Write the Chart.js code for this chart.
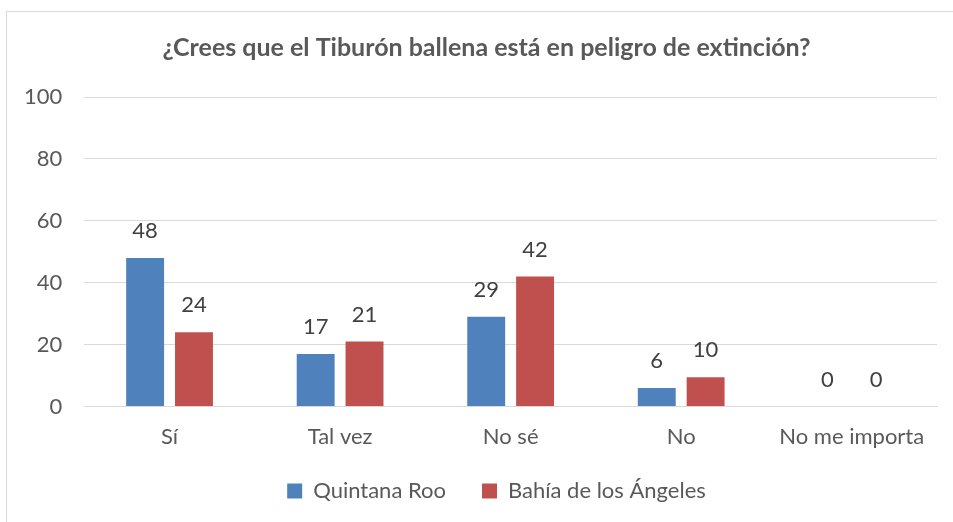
<!DOCTYPE html>
<html>
<head>
<meta charset="utf-8">
<script src="https://cdn.jsdelivr.net/npm/chart.js@4/dist/chart.umd.min.js"></script>
<style>
  body { margin: 0; background: #fff; }
  #wrap { position: relative; width: 953px; height: 522px; }
  #frame { position: absolute; left: 6px; top: 11px; width: 960px; height: 520px; border: 1px solid #d9d9d9; box-sizing: border-box; }
</style>
</head>
<body>
<div id="wrap">
  <div id="frame"></div>
  <canvas id="bar"></canvas>
</div>
<script>
// datos
const categorias = ['Sí', 'Tal vez', 'No sé', 'No', 'No me importa'];
const quintanaRoo = [48, 17, 29, 6, 0];
const bahiaAngeles = [24, 21, 42, 9.5, 0];
const yTicks = [0, 20, 40, 60, 80, 100];

const fuente = 'Lato, "Open Sans", sans-serif';

// etiquetas encima de cada barra
const etiquetas = {
  id: 'etiquetas',
  afterLayout(chart) {
    // titulo y leyenda del original estan un poco a la derecha
    chart.titleBlock.left += 17;
    chart.titleBlock.right += 17;
    chart.legend.left += 27;
    chart.legend.right += 27;
    chart.legend.top -= 15;
    chart.legend.bottom -= 15;
  },
  afterDatasetsDraw(chart) {
    const ctx = chart.ctx;
    ctx.save();
    ctx.font = '22px ' + fuente;
    ctx.fillStyle = '#404040';
    ctx.textAlign = 'center';
    ctx.textBaseline = 'middle';
    chart.data.datasets.forEach(function(ds, i) {
      const meta = chart.getDatasetMeta(i);
      meta.data.forEach(function(bar, j) {
        ctx.fillText(Math.round(ds.data[j]), bar.x, bar.y - 27);
      });
    });
    ctx.restore();
  }
};

const data = {
  labels: categorias,
  datasets: [
    {
      label: 'Quintana Roo',
      data: quintanaRoo,
      backgroundColor: '#4f81bd',
      categoryPercentage: 0.573,
      barPercentage: 0.776,
    },
    {
      label: 'Bahía de los Ángeles',
      data: bahiaAngeles,
      backgroundColor: '#c0504d',
      categoryPercentage: 0.573,
      barPercentage: 0.776,
    },
  ]
};

const config = {
  type: 'bar',
  data: data,
  options: {
    responsive: true,
    maintainAspectRatio: false,
    animation: false,
    layout: { padding: { left: 2, right: 16, top: 0, bottom: -5 } },
    plugins: {
      title: {
        display: true,
        text: '¿Crees que el Tiburón ballena está en peligro de extinción?',
        color: '#595959',
        font: { family: fuente, size: 25, weight: 'bold' },
        padding: { top: 33, bottom: 34 }
      },
      legend: {
        position: 'bottom',
        labels: {
          boxWidth: 15,
          boxHeight: 15,
          color: '#595959',
          font: { family: fuente, size: 22 },
          padding: 36
        }
      },
      tooltip: { enabled: false }
    },
    scales: {
      x: {
        grid: { display: false },
        border: { color: '#d9d9d9', width: 1 },
        ticks: { color: '#595959', font: { family: fuente, size: 22 }, padding: 9 }
      },
      y: {
        min: 0,
        max: 100,
        afterBuildTicks(axis) { axis.ticks = yTicks.map(v => ({ value: v })); },
        grid: { color: '#d9d9d9', lineWidth: 1, drawTicks: false },
        border: { display: false },
        ticks: { color: '#595959', font: { family: fuente, size: 22 }, padding: 22 }
      }
    }
  },
  plugins: [etiquetas]
};

const chart = new Chart('bar', config);
</script>
</body>
</html>
